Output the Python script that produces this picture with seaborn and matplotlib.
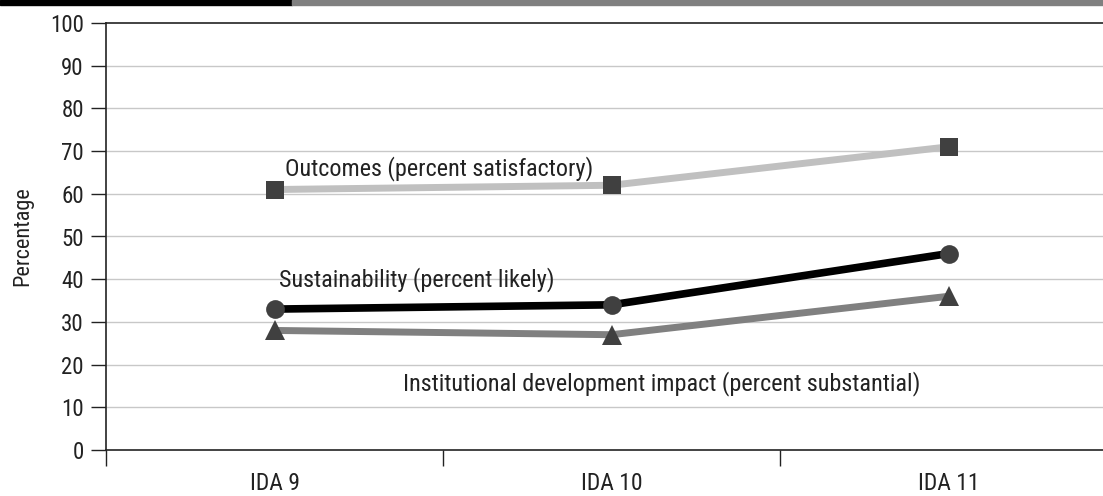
import matplotlib
matplotlib.use("Agg")
import matplotlib.pyplot as plt
import matplotlib.patches as mpatches
from matplotlib import font_manager as fm
import seaborn as sns
import pandas as pd

categories = ["IDA 9", "IDA 10", "IDA 11"]
outcomes = [61, 62, 71]
sustainability = [33, 34, 46]
institutional = [28, 27, 36]
series_names = ["Outcomes (percent satisfactory)",
                "Sustainability (percent likely)",
                "Institutional development impact (percent substantial)"]
y_ticks = [0, 10, 20, 30, 40, 50, 60, 70, 80, 90, 100]

sns.set_theme(style="white")

installed = {f.name for f in fm.fontManager.ttflist}
narrow = None
for cand in ["Liberation Sans Narrow", "Roboto Condensed", "Open Sans Condensed",
             "Arial Narrow", "DejaVu Sans Condensed", "Noto Sans Condensed"]:
    if cand in installed:
        narrow = cand
        break
stretch = "normal"
if narrow is None:
    others = sorted(n for n in installed if ("Narrow" in n or "Condensed" in n))
    if others:
        narrow = others[0]
    else:
        narrow = "DejaVu Sans"
        stretch = "condensed"
plt.rcParams['font.family'] = [narrow, 'DejaVu Sans']
plt.rcParams['font.stretch'] = stretch

rows = []
for name, vals in zip(series_names, [outcomes, sustainability, institutional]):
    for i, v in enumerate(vals):
        rows.append({"pos": i, "value": v, "series": name})
df = pd.DataFrame(rows)

W, H = 1103, 496
fig = plt.figure(figsize=(W / 100, H / 100), dpi=100)
x0, x1, ytop, ybot = 106, 1117, 23, 450
ax = fig.add_axes([x0 / W, (H - ybot) / H, (x1 - x0) / W, (ybot - ytop) / H])

styles = {
    series_names[0]: dict(color="#c0c0c0", marker="s", ms=13, lw=5.0),
    series_names[1]: dict(color="#000000", marker="o", ms=13.5, lw=5.5),
    series_names[2]: dict(color="#808080", marker="^", ms=14, lw=5.0),
}
for name in series_names:
    st = styles[name]
    sns.lineplot(data=df[df.series == name], x="pos", y="value", ax=ax,
                 color=st["color"], linewidth=st["lw"], marker=st["marker"],
                 markersize=st["ms"], markerfacecolor="#404040",
                 markeredgecolor="#404040", markeredgewidth=0,
                 legend=False, zorder=3)

ax.set_xlim(-0.5, 2.5)
ax.set_ylim(0, 100)
ax.set_yticks(y_ticks)
ax.set_yticklabels([str(t) for t in y_ticks], fontsize=16.5, color="#222222")
for t in y_ticks[1:-1]:
    ax.axhline(t, color="#c8c8c8", linewidth=1.0, zorder=1)

ax.set_xticks([-0.5, 0.5, 1.5])
ax.set_xticklabels(["", "", ""])
ax.set_xticks([0, 1, 2], minor=True)
ax.set_xticklabels(categories, minor=True, fontsize=17, color="#222222")
ax.tick_params(axis="x", which="major", direction="out", length=11.5, width=1.0,
               color="#222222", bottom=True)
ax.tick_params(axis="x", which="minor", length=0, pad=15.5)
ax.tick_params(axis="y", direction="out", length=11, width=1.0, color="#222222",
               left=True, pad=5)

for side in ["left", "bottom", "top"]:
    ax.spines[side].set_visible(True)
    ax.spines[side].set_color("#222222")
    ax.spines[side].set_linewidth(1.2)
ax.spines["right"].set_visible(False)

ax.set_xlabel("")
ax.set_ylabel("")
fig.text(23 / W, 1 - 236 / H, "Percentage", fontsize=16, rotation=90,
         ha="center", va="center", color="#222222")

ax.text(0.03, 64.4, series_names[0], fontsize=17.4, ha="left", va="baseline", color="#222222")
ax.text(0.012, 38.2, series_names[1], fontsize=17.4, ha="left", va="baseline", color="#222222")
ax.text(0.38, 14.05, series_names[2], fontsize=17.4, ha="left", va="baseline", color="#222222")

# header bars
fig.patches.append(mpatches.Rectangle((0, 1 - 5 / H), 292 / W, 5 / H,
                                      transform=fig.transFigure, color="#000000"))
fig.patches.append(mpatches.Rectangle((292 / W, 1 - 5 / H), 1 - 292 / W, 5 / H,
                                      transform=fig.transFigure, color="#808080"))

fig.savefig("out.png", dpi=100)
